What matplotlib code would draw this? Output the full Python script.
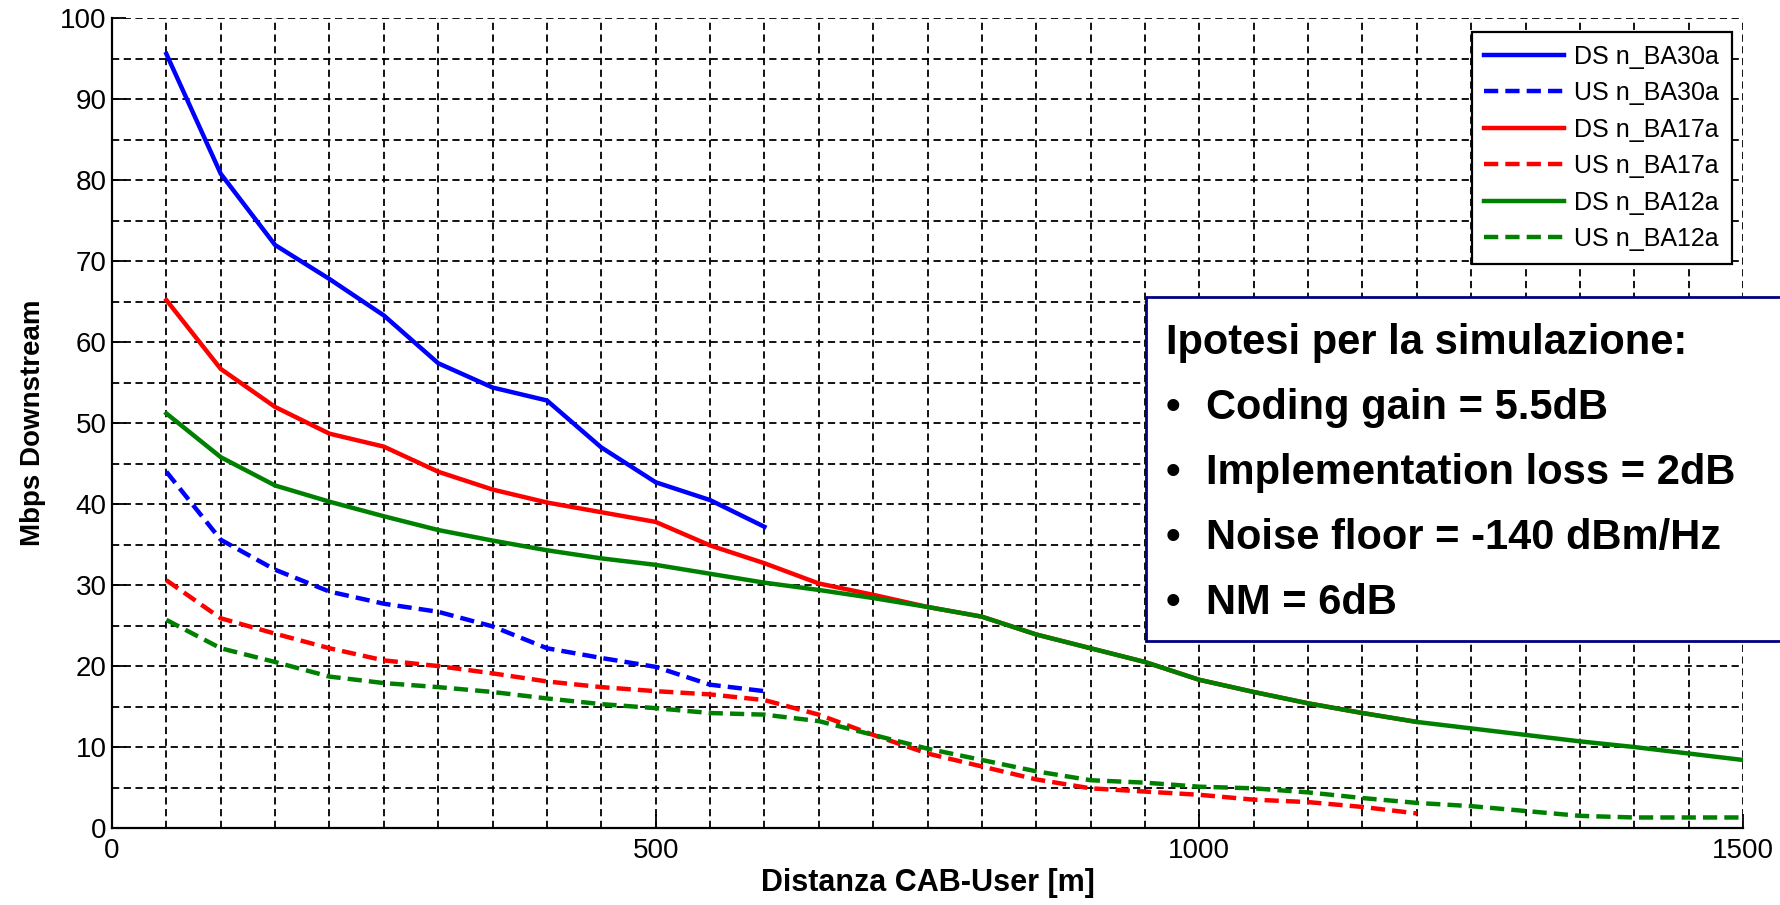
import matplotlib
matplotlib.use("Agg")
import matplotlib.pyplot as plt
from matplotlib.patches import Rectangle
import numpy as np

plt.rcParams['font.family'] = ['Liberation Sans', 'DejaVu Sans']

# distanze [m]
x30 = np.arange(50, 601, 50)
x17 = np.arange(50, 1201, 50)
x12 = np.arange(50, 1501, 50)

# Mbps
ds30 = [95.6, 80.8, 72.0, 67.8, 63.3, 57.4, 54.4, 52.8, 47.0, 42.7, 40.5, 37.2]
us30 = [44.0, 35.6, 31.9, 29.2, 27.7, 26.7, 24.9, 22.2, 21.0, 19.9, 17.7, 16.9]
ds17 = [65.2, 56.7, 52.0, 48.7, 47.1, 44.0, 41.8, 40.2, 39.0, 37.8, 34.9, 32.7,
        30.2, 28.8, 27.3, 26.1, 23.9, 22.2, 20.5, 18.3, 16.8, 15.4, 14.2, 13.1]
us17 = [30.6, 25.9, 24.0, 22.2, 20.7, 20.0, 19.1, 18.1, 17.4, 16.9, 16.5, 15.8,
        14.0, 11.5, 9.2, 7.6, 6.0, 4.9, 4.5, 4.1, 3.5, 3.2, 2.6, 1.8]
ds12 = [51.2, 45.8, 42.3, 40.3, 38.5, 36.8, 35.5, 34.3, 33.3, 32.5, 31.4, 30.3,
        29.4, 28.4, 27.3, 26.1, 23.9, 22.2, 20.5, 18.3, 16.8, 15.4, 14.2, 13.1,
        12.3, 11.5, 10.7, 10.0, 9.2, 8.4]
us12 = [25.7, 22.2, 20.5, 18.7, 17.9, 17.4, 16.8, 16.0, 15.3, 14.8, 14.2, 14.0,
        13.2, 11.5, 9.8, 8.4, 7.0, 5.9, 5.6, 5.1, 4.9, 4.4, 3.7, 3.1, 2.7, 2.1,
        1.5, 1.3, 1.3, 1.3]

ipotesi = ['Coding gain = 5.5dB', 'Implementation loss = 2dB',
           'Noise floor = -140 dBm/Hz', 'NM = 6dB']

W, H = 1780, 905
fig = plt.figure(figsize=(W/100, H/100), dpi=100)
ax = fig.add_axes([112/W, 1-828/H, (1743-112)/W, (828-18.3)/H])

verde = (0, 0.5, 0)
lw = 3.2
tratt = (0, (3.2, 1.6))
ax.plot(x30, ds30, color='b', lw=lw, label='DS n_BA30a')
ax.plot(x30, us30, color='b', lw=lw, ls=tratt, label='US n_BA30a')
ax.plot(x17, ds17, color='r', lw=lw, label='DS n_BA17a')
ax.plot(x17, us17, color='r', lw=lw, ls=tratt, label='US n_BA17a')
ax.plot(x12, ds12, color=verde, lw=lw, label='DS n_BA12a')
ax.plot(x12, us12, color=verde, lw=lw, ls=tratt, label='US n_BA12a')

ax.set_xlim(0, 1500)
ax.set_ylim(0, 100)
ax.set_xticks([0, 500, 1000, 1500])
ax.set_yticks(np.arange(0, 101, 10))
ax.set_xticks(np.arange(0, 1501, 50), minor=True)
ax.set_yticks(np.arange(0, 101, 5), minor=True)
ax.grid(True, which='both', color='k', ls=(0, (4, 2.5)), lw=1.3)
ax.set_axisbelow(True)
ax.tick_params(which='major', direction='in', length=10, width=1.3, labelsize=20)
ax.tick_params(which='minor', length=0)
ax.tick_params(axis='x', pad=7)
ax.tick_params(axis='y', pad=4)
for s in ['top', 'right']:
    ax.spines[s].set_visible(False)
for s in ['left', 'bottom']:
    ax.spines[s].set_linewidth(1.6)

ax.set_xlabel('Distanza CAB-User [m]', fontsize=22, fontweight='bold', labelpad=3)
ax.set_ylabel('Mbps Downstream', fontsize=20, fontweight='bold', labelpad=10)

leg = ax.legend(loc='upper right', bbox_to_anchor=(0.993, 0.983), fontsize=18,
                handlelength=3.2, handletextpad=0.4, labelspacing=0.5,
                borderpad=0.5, fancybox=False, framealpha=1, edgecolor='k',
                borderaxespad=0)
leg.get_frame().set_linewidth(1.6)

# riquadro ipotesi
box = Rectangle((1145.7/W, 1-640.7/H), (W-1145.7+20)/W, (640.7-297)/H,
                transform=fig.transFigure, facecolor='white', edgecolor='#000080',
                lw=2, clip_on=False, zorder=5)
fig.patches.append(box)
fig.text(1166/W, 1-354/H, 'Ipotesi per la simulazione:', fontsize=30,
         fontweight='bold', va='baseline', zorder=6)
for i, t in enumerate(ipotesi):
    yb = 1 - (419 + 65*i)/H
    fig.text(1166/W, yb, '\u2022', fontsize=30, fontweight='bold', va='baseline', zorder=6)
    fig.text(1205.5/W, yb, t, fontsize=30, fontweight='bold', va='baseline', zorder=6)

fig.savefig('out.png', dpi=100)
